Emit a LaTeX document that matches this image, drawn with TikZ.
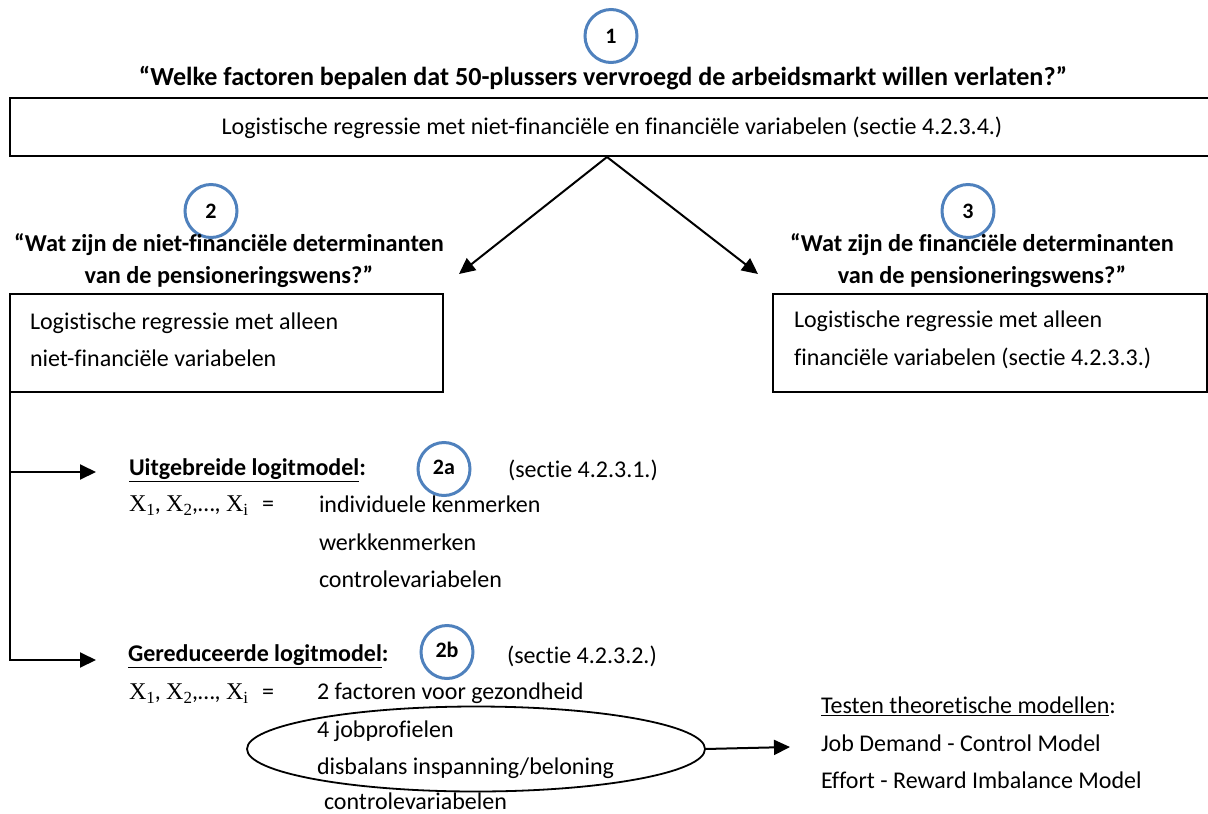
\documentclass[tikz,border=0pt]{standalone}
\usepackage{fontspec}
\setmainfont[Ligatures=NoCommon]{Carlito}
\newfontfamily\xfont{Liberation Serif}
\usetikzlibrary{arrows.meta,shapes.geometric}
\definecolor{circblue}{HTML}{4F81BD}
\newcommand\myul[1]{\underline{#1}}
\newcommand\Xs[1]{{\xfont X\raisebox{-4pt}{\fontsize{17}{17}\selectfont #1}}}
\begin{document}
\begin{tikzpicture}[x=1pt,y=-1pt,
  every node/.style={inner sep=0pt,outer sep=0pt,font=\fontsize{24}{37.5}\selectfont},
  circ/.style={draw=circblue,line width=3pt,ellipse,minimum width=52pt,minimum height=53pt,font=\fontsize{22}{24}\selectfont\bfseries},
  qtext/.style={align=center,font=\fontsize{24.3}{32}\selectfont\bfseries},
  boxnode/.style={draw,line width=1.8pt,rectangle,anchor=north west},
  txt/.style={anchor=west,align=left},
  arr/.style={line width=2pt,-{Triangle[length=16pt,width=15pt]}}]
\useasboundingbox (0,0) rectangle (1208,814);
\clip (0,0) rectangle (1208,814);
% top
\node[circ] (c1) at (611,36) {1};
\node[qtext,font=\fontsize{26.1}{32}\selectfont\bfseries] (q1) at (603,78) {“Welke factoren bepalen dat 50-plussers vervroegd de arbeidsmarkt willen verlaten?”};
\node[boxnode,minimum width=1204pt,minimum height=58pt] (b1) at (10,98) {};
\node (b1t) at (612,128) {Logistische regressie met niet-financiële en financiële variabelen (sectie 4.2.3.4.)};
\coordinate (s1) at (607,157);
\coordinate (e2) at (459,274);
\coordinate (e3) at (758,274);
\draw[arr] (s1) -- (e2);
\draw[arr] (s1) -- (e3);
% left branch
\node[circ] (c2) at (211,211) {2};
\node[qtext] (q2) at (229,261) {“Wat zijn de niet-financiële determinanten\\van de pensioneringswens?”};
\node[boxnode,minimum width=433pt,minimum height=98pt] (b2) at (10,294) {};
\node[txt] (b2t) at (30,340) {Logistische regressie met alleen\\niet-financiële variabelen};
% right branch
\node[circ] (c3) at (968,211) {3};
\node[qtext] (q3) at (982,261) {“Wat zijn de financiële determinanten\\van de pensioneringswens?”};
\node[boxnode,minimum width=434pt,minimum height=98pt] (b3) at (773,294) {};
\node[txt] (b3t) at (794,340) {Logistische regressie met alleen\\financiële variabelen (sectie 4.2.3.3.)};
% 2a
\coordinate (t2a) at (96,472);
\coordinate (j2a) at (10,472);
\coordinate (t2b) at (96,660);
\draw[arr] (b2.south west) |- (t2b);
\draw[arr] (j2a) -- (t2a);
\node[txt] (h2a) at (129,470) {\textbf{\myul{Uitgebreide logitmodel}:}};
\node[circ] (c2a) at (444,469) {\raisebox{4pt}{2a}};
\node[txt] (s2a) at (508,470) {(sectie 4.2.3.1.)};
\node[txt] (x2a) at (129,506) {\Xs{1}, \Xs{2},…, \Xs{i}\hspace{14pt}=};
\node[txt] (v2a) at (319,542) {individuele kenmerken\\werkkenmerken\\controlevariabelen};
% 2b
\node[txt] (h2b) at (128,656) {\textbf{\myul{Gereduceerde logitmodel}:}};
\node[circ] (c2b) at (447,652) {\raisebox{4pt}{2b}};
\node[txt] (s2b) at (507,656) {(sectie 4.2.3.2.)};
\node[txt] (x2b) at (129,694) {\Xs{1}, \Xs{2},…, \Xs{i}\hspace{14pt}=};
\node[txt] (v2b) at (317,731) {2 factoren voor gezondheid\\4 jobprofielen\\disbalans inspanning/beloning};
\node[txt] (v2c) at (324,801) {controlevariabelen};
\node[draw,ellipse,line width=1.8pt,minimum width=458pt,minimum height=85pt] (el) at (476,749) {};
\coordinate (te) at (790,747);
\draw[arr] (el.east) -- (te);
\node[txt] (tm) at (821,743) {\myul{Testen theoretische modellen}:\\Job Demand - Control Model\\Effort - Reward Imbalance Model};
\end{tikzpicture}
\end{document}
